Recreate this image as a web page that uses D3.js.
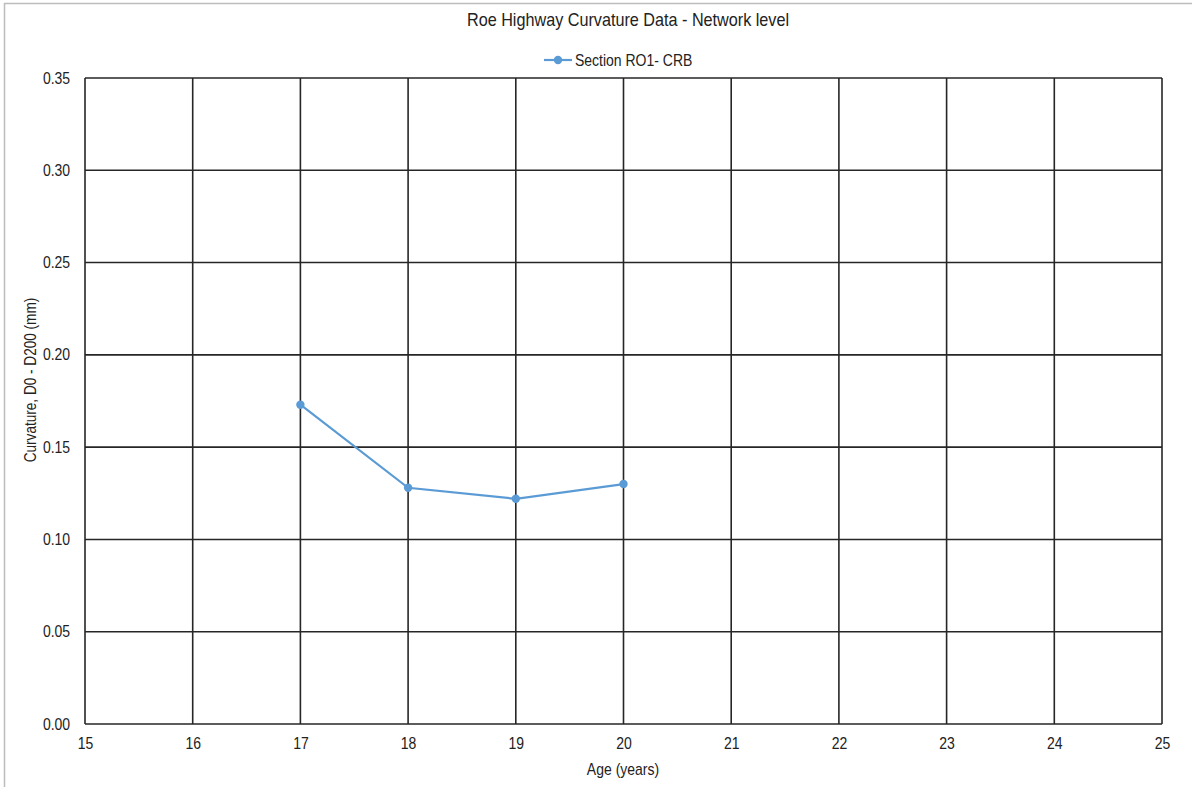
<!DOCTYPE html>
<html>
<head>
<meta charset="utf-8">
<script src="https://cdn.jsdelivr.net/npm/d3@7"></script>
<style>
  html, body { margin: 0; padding: 0; background: #fff; }
  svg { display: block; }
  text { font-family: "Liberation Sans Narrow", "Arial Narrow", "Liberation Sans", Arial, sans-serif; fill: #222; }
</style>
</head>
<body>
<svg id="chart" width="1192" height="787"></svg>
<script>
// Roe Highway curvature (D0 - D200) by pavement age
const ages = [17, 18, 19, 20];
const curvature = [0.173, 0.128, 0.122, 0.130];
const xTicks = [15, 16, 17, 18, 19, 20, 21, 22, 23, 24, 25];
const yTicks = [0, 0.05, 0.10, 0.15, 0.20, 0.25, 0.30, 0.35];
const seriesName = "Section RO1- CRB";

const W = 1192, H = 787;
const margin = { left: 85, right: 30, top: 78, bottom: 63 };
const NARROW = 0.875; // horizontal squeeze to mimic a condensed face
const svg = d3.select("#chart");

// outer chart frame
svg.append("line").attr("x1", 4).attr("x2", W).attr("y1", 3.5).attr("y2", 3.5)
  .attr("stroke", "#bdbdbd").attr("stroke-width", 1.5);
svg.append("line").attr("x1", 4.5).attr("x2", 4.5).attr("y1", 3).attr("y2", H)
  .attr("stroke", "#bdbdbd").attr("stroke-width", 1.5);

const x = d3.scaleLinear().domain([15, 25]).range([margin.left, W - margin.right]);
const y = d3.scaleLinear().domain([0, 0.35]).range([H - margin.bottom, margin.top]);

// grid
const g = svg.append("g");
g.selectAll(".vg").data(xTicks).join("line")
  .attr("x1", d => x(d)).attr("x2", d => x(d))
  .attr("y1", y(0.35)).attr("y2", y(0))
  .attr("stroke", "#262626").attr("stroke-width", 1.6);
g.selectAll(".hg").data(yTicks).join("line")
  .attr("x1", x(15)).attr("x2", x(25))
  .attr("y1", d => y(d)).attr("y2", d => y(d))
  .attr("stroke", "#262626").attr("stroke-width", 1.6);

// tick labels
const xAxis = d3.axisBottom(x).tickValues(xTicks).tickSize(0).tickPadding(14).tickFormat(d3.format("d"));
svg.append("g").attr("transform", `translate(0,${y(0)})`).call(xAxis)
  .call(s => s.select(".domain").remove())
  .selectAll("text").attr("font-size", 16).attr("fill", "#222")
  .attr("transform", `scale(${NARROW},1)`)
  .style("font-family", "'Liberation Sans Narrow','Arial Narrow','Liberation Sans',Arial,sans-serif");

const yAxis = d3.axisLeft(y).tickValues(yTicks).tickSize(0).tickPadding(17).tickFormat(d3.format(".2f"));
svg.append("g").attr("transform", `translate(${x(15)},0)`).call(yAxis)
  .call(s => s.select(".domain").remove())
  .selectAll("text").attr("font-size", 16).attr("fill", "#222")
  .attr("transform", `scale(${NARROW},1)`)
  .style("font-family", "'Liberation Sans Narrow','Arial Narrow','Liberation Sans',Arial,sans-serif");

// series line and markers
const color = "#5b9bd5";
const pts = ages.map((a, i) => [a, curvature[i]]);
svg.append("path").datum(pts)
  .attr("fill", "none").attr("stroke", color).attr("stroke-width", 2.2)
  .attr("d", d3.line().x(d => x(d[0])).y(d => y(d[1])));
svg.selectAll(".pt").data(pts).join("circle")
  .attr("cx", d => x(d[0])).attr("cy", d => y(d[1])).attr("r", 4.2)
  .attr("fill", color);

// title
svg.append("text").attr("transform", "translate(628,26) scale(0.9,1)").attr("text-anchor", "middle")
  .attr("font-size", 18).text("Roe Highway Curvature Data - Network level");

// legend
const lg = svg.append("g").attr("transform", "translate(544,60)");
lg.append("line").attr("x1", 0).attr("x2", 28).attr("y1", 0).attr("y2", 0)
  .attr("stroke", color).attr("stroke-width", 2.2);
lg.append("circle").attr("cx", 14).attr("cy", 0).attr("r", 4.2).attr("fill", color);
lg.append("text").attr("transform", `translate(31,6) scale(${NARROW},1)`)
  .attr("font-size", 16).text(seriesName);

// axis titles
svg.append("text").attr("transform", `translate(623,775) scale(${NARROW},1)`).attr("text-anchor", "middle")
  .attr("font-size", 16).text("Age (years)");
svg.append("text").attr("transform", `translate(36,380) rotate(-90) scale(0.85,1)`)
  .attr("text-anchor", "middle").attr("font-size", 16).text("Curvature, D0 - D200 (mm)");
</script>
</body>
</html>
